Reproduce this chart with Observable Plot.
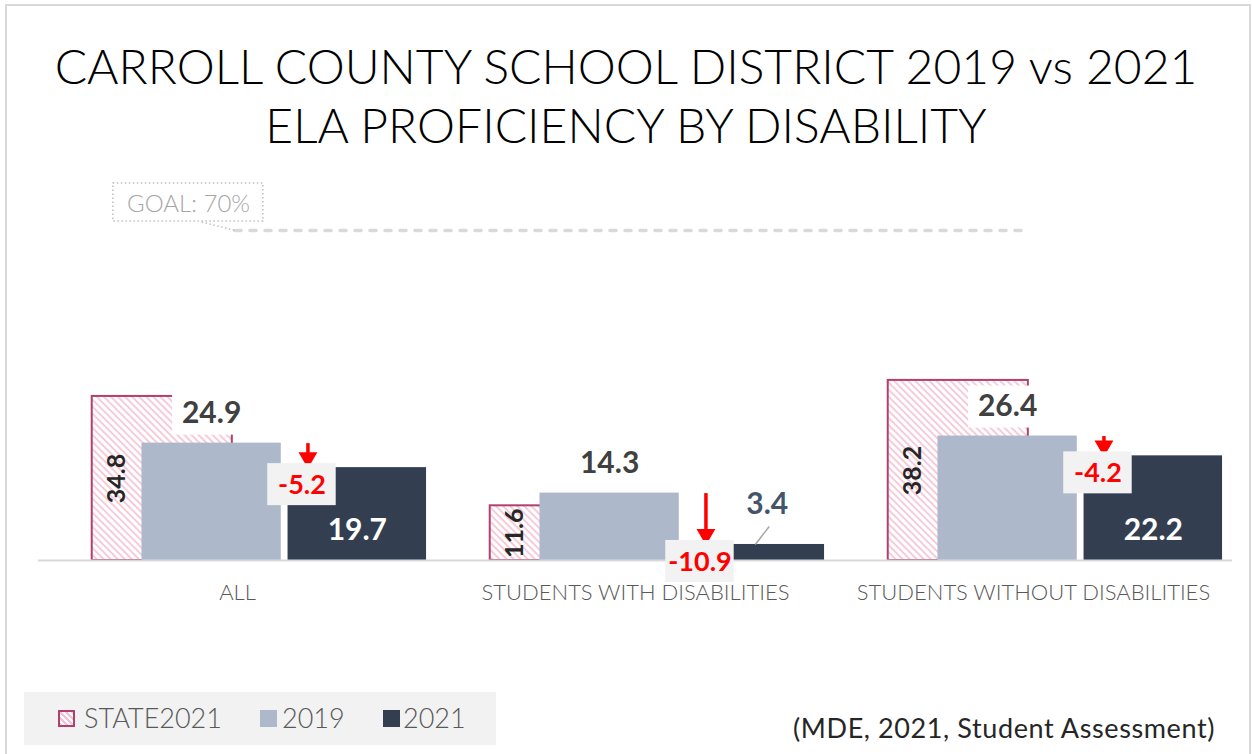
<!DOCTYPE html>
<html>
<head>
<meta charset="utf-8">
<script src="https://cdn.jsdelivr.net/npm/d3@7"></script>
<script src="https://cdn.jsdelivr.net/npm/@observablehq/plot@0.6"></script>
<style>
  body { margin: 0; background: #fff; }
  #page { position: relative; width: 1252px; height: 754px; overflow: hidden; font-family: Lato, "Open Sans", sans-serif; }
  #frame { position: absolute; left: 5px; top: 4px; width: 1246px; height: 800px; border: 2px solid #d9d9d9; box-sizing: border-box; z-index: 5; pointer-events: none; }
  #title { position: absolute; left: 0; top: 36px; width: 1252px; text-align: center; font-size: 48px; line-height: 59px; color: #000; font-weight: 300; white-space: nowrap; }
  #chart { position: absolute; left: 0; top: 160px; }
  #legend { position: absolute; left: 24px; top: 692px; width: 472px; height: 53px; background: #f2f2f2; }
  .sw { position: absolute; top: 18px; width: 17px; height: 17px; box-sizing: border-box; }
  .lt { position: absolute; top: 8px; font-size: 27px; line-height: 36px; color: #595959; font-weight: 300; white-space: nowrap; }
  #caption { position: absolute; right: 37px; top: 711px; font-size: 27px; line-height: 34px; letter-spacing: 0.6px; color: #262626; white-space: nowrap; }
</style>
</head>
<body>
<div id="page">
  <div id="frame"></div>
  <div id="title"></div>
  <div id="chart"></div>
  <div id="legend"></div>
  <div id="caption"></div>
</div>
<script>
// ---- data ----
const titleLines = ["CARROLL COUNTY SCHOOL DISTRICT 2019 vs 2021", "ELA PROFICIENCY BY DISABILITY"];
const categories = ["ALL", "STUDENTS WITH DISABILITIES", "STUDENTS WITHOUT DISABILITIES"];
const state2021 = [34.8, 11.6, 38.2];
const values2019 = [24.9, 14.3, 26.4];
const values2021 = [19.7, 3.4, 22.2];
const changes = [-5.2, -10.9, -4.2];
const goal = 70;
const goalLabel = "GOAL: 70%";
const seriesNames = ["STATE2021", "2019", "2021"];
const captionText = "(MDE, 2021, Student Assessment)";

// ---- styles ----
const C_STATE = "#b0416f", C_2019 = "#adb9ca", C_2021 = "#333f50", C_RED = "#ff0000";
const FONT = "Lato, 'Open Sans', sans-serif";

document.getElementById("title").innerHTML = titleLines.join("<br>");
document.getElementById("caption").textContent = captionText;

const rows = categories.map((c, i) => ({i, c, state: state2021[i], y19: values2019[i], y21: values2021[i], diff: changes[i]}));

// offsets within each category band (fraction of band)
const S = [0.135, 0.487], A = [0.26, 0.61], B = [0.627, 0.975];
const mid = (o) => (o[0] + o[1]) / 2;
const ARW = 0.677, DBOX = 0.662;

const chart = Plot.plot({
  width: 1252,
  height: 460,
  marginTop: 70,
  marginBottom: 60,
  marginLeft: 38,
  marginRight: 20,
  style: {background: "transparent", fontFamily: FONT, overflow: "visible"},
  x: {domain: [0, 3], axis: null},
  y: {domain: [0, 70], axis: null},
  marks: [
    // goal line
    Plot.ruleY([goal], {x1: () => 0.495, x2: () => 2.475, y: d => d, stroke: "#d9d9d9", strokeWidth: 3.5, strokeDasharray: "6,9", strokeLinecap: "round"}),
    Plot.link([goal], {x1: () => 0.41, x2: () => 0.495, y1: d => d + 1.8, y2: d => d, stroke: "#bfbfbf", strokeWidth: 1.5, strokeDasharray: "1.5,2.5"}),
    Plot.rect([goal], {x1: () => 0.188, x2: () => 0.565, y1: d => d, y2: d => d, insetTop: -47, insetBottom: 9, fill: "white", stroke: "#bfbfbf", strokeWidth: 1.5, strokeDasharray: "1.5,2.5"}),
    Plot.text([goal], {x: () => 0.377, y: d => d, text: () => goalLabel, dy: -26, fontSize: 24, fontWeight: 300, fill: "#a6a6a6"}),
    // state bars (hatched)
    Plot.rect(rows, {x1: d => d.i + S[0], x2: d => d.i + S[1], y1: 0, y2: "state", fill: "url(#hatch)", stroke: C_STATE, strokeWidth: 2}),
    // 2019 bars
    Plot.rect(rows, {x1: d => d.i + A[0], x2: d => d.i + A[1], y1: 0, y2: "y19", fill: C_2019}),
    // 2021 bars
    Plot.rect(rows, {x1: d => d.i + B[0], x2: d => d.i + B[1], y1: 0, y2: "y21", fill: C_2021}),
    // axis line
    Plot.ruleY([0], {stroke: "#d9d9d9", strokeWidth: 2}),
    // state labels (rotated)
    Plot.text(rows, {x: d => d.i + S[0] + 0.063, y: d => d.state / 2, text: d => d.state.toFixed(1), rotate: -90, fontSize: 25, fontWeight: 700, fill: "#262626"}),
    // 2019 labels with white box
    Plot.rect(rows, {x1: d => d.i + mid(A) - 0.098, x2: d => d.i + mid(A) + 0.098, y1: "y19", y2: "y19", insetTop: -50, insetBottom: 8, fill: "white"}),
    Plot.text(rows, {x: d => d.i + mid(A), y: "y19", text: d => d.y19.toFixed(1), dy: -29.6, fontSize: 30, fontWeight: 700, fill: "#404040"}),
    // 2021 labels
    Plot.text(rows.filter(d => d.y21 >= 8), {x: d => d.i + mid(B), y: 0, text: d => d.y21.toFixed(1), dy: -30.6, fontSize: 30, fontWeight: 700, fill: "white"}),
    Plot.link(rows.filter(d => d.y21 < 8), {x1: d => d.i + mid(B), x2: d => d.i + mid(B) + 0.035, y1: "y21", y2: d => d.y21 + 3.8, stroke: "#a6a6a6", strokeWidth: 1.5}),
    Plot.text(rows.filter(d => d.y21 < 8), {x: d => d.i + mid(B), y: "y21", text: d => d.y21.toFixed(1), dx: 12, dy: -39.6, fontSize: 30, fontWeight: 700, fill: "#44546a"}),
    // change arrows
    Plot.link(rows, {x1: d => d.i + ARW, x2: d => d.i + ARW, y1: "y19", y2: "y21", stroke: C_RED, strokeWidth: 3.5}),
    Plot.dot(rows, {x: d => d.i + ARW, y: "y21", dy: -10, symbol: "triangle", rotate: 180, r: 7, fill: C_RED, stroke: "none"}),
    // change boxes
    Plot.rect(rows, {x1: d => d.i + DBOX - 0.086, x2: d => d.i + DBOX + 0.086, y1: "y21", y2: "y21", insetTop: -4, insetBottom: -38, fill: "#f2f2f2"}),
    Plot.text(rows, {x: d => d.i + DBOX, y: "y21", text: d => d.diff.toFixed(1), dy: 18, fontSize: 27, fontWeight: 700, fill: C_RED}),
    // category labels
    Plot.text(rows, {x: d => d.i + 0.5, y: 0, text: "c", dy: 32, fontSize: 22, fontWeight: 300, fill: "#595959"})
  ]
});

// hatch pattern
d3.select(chart).insert("defs", ":first-child").html(`
  <pattern id="hatch" patternUnits="userSpaceOnUse" width="5" height="5" patternTransform="rotate(-45)">
    <rect width="5" height="5" fill="white"></rect>
    <rect width="2" height="5" fill="#f6ccda"></rect>
  </pattern>`);
document.getElementById("chart").appendChild(chart);

// legend
const legend = document.getElementById("legend");
const swStyles = [
  `border:2px solid ${C_STATE};background:repeating-linear-gradient(45deg,#f4c3d3 0 2px,#fff 2px 4.2px);`,
  `background:${C_2019};`,
  `background:${C_2021};`
];
const swX = [34, 236, 359], txX = [60, 258, 379];
seriesNames.forEach((name, k) => {
  const sw = document.createElement("div");
  sw.className = "sw"; sw.style.cssText = swStyles[k] + `left:${swX[k]}px;`;
  legend.appendChild(sw);
  const t = document.createElement("div");
  t.className = "lt"; t.style.left = txX[k] + "px"; t.textContent = name;
  legend.appendChild(t);
});
</script>
</body>
</html>
